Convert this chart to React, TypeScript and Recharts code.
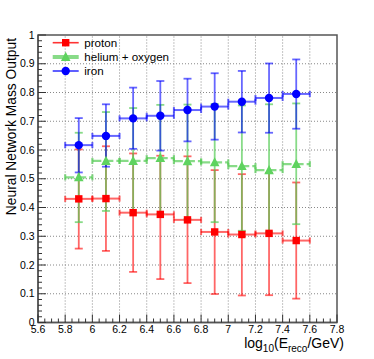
import React from 'react';
import {
  ScatterChart,
  Scatter,
  XAxis,
  YAxis,
  ErrorBar,
  ReferenceLine,
  ReferenceArea,
  Legend,
} from 'recharts';

// ---- data ----
const energyBins = [5.9, 6.1, 6.3, 6.5, 6.7, 6.9, 7.1, 7.3, 7.5];
const binHalfWidth = [0.1, 0.1, 0.1, 0.1, 0.1, 0.1, 0.1, 0.1, 0.1];

const protonMean = [0.43, 0.431, 0.382, 0.376, 0.357, 0.315, 0.306, 0.31, 0.285];
const protonLow = [0.257, 0.249, 0.176, 0.151, 0.137, 0.099, 0.094, 0.095, 0.083];
const protonHigh = [0.602, 0.613, 0.588, 0.58, 0.578, 0.53, 0.516, 0.52, 0.487];

const heliumMean = [0.505, 0.562, 0.562, 0.572, 0.561, 0.557, 0.544, 0.53, 0.551];
const heliumLow = [0.349, 0.388, 0.382, 0.377, 0.359, 0.349, 0.319, 0.314, 0.342];
const heliumHigh = [0.66, 0.732, 0.746, 0.757, 0.758, 0.76, 0.755, 0.759, 0.762];

const ironMean = [0.617, 0.649, 0.71, 0.719, 0.739, 0.751, 0.768, 0.781, 0.795];
const ironLow = [0.522, 0.542, 0.604, 0.598, 0.63, 0.636, 0.661, 0.66, 0.674];
const ironHigh = [0.711, 0.759, 0.817, 0.84, 0.848, 0.867, 0.875, 0.901, 0.915];

const seriesNames = ['proton', 'helium + oxygen', 'iron'];

const xMajorTicks = [5.6, 5.8, 6, 6.2, 6.4, 6.6, 6.8, 7, 7.2, 7.4, 7.6, 7.8];
const yMajorTicks = [0, 0.1, 0.2, 0.3, 0.4, 0.5, 0.6, 0.7, 0.8, 0.9, 1];
const xMinorPerMajor = 4;
const yMinorPerMajor = 5;

const xGrid = [5.8, 6, 6.2, 6.4, 6.6, 6.8, 7, 7.2, 7.4, 7.6];
const yGrid = [0.1, 0.2, 0.3, 0.4, 0.5, 0.6, 0.7, 0.8, 0.9];

// ---- helpers ----
const FONT = '"Liberation Sans", Arial, Helvetica, sans-serif';

function subdivide(majors: number[], n: number): number[] {
  const out: number[] = [];
  for (let i = 0; i < majors.length - 1; i++) {
    const a = majors[i];
    const b = majors[i + 1];
    for (let k = 0; k < n; k++) out.push(Math.round((a + ((b - a) * k) / n) * 1000) / 1000);
  }
  out.push(majors[majors.length - 1]);
  return out;
}

const xTicks = subdivide(xMajorTicks, xMinorPerMajor);
const yTicks = subdivide(yMajorTicks, yMinorPerMajor);

const isMajor = (v: number, majors: number[]) => majors.some((m) => Math.abs(m - v) < 1e-6);

function build(mean: number[], low: number[], high: number[]) {
  return energyBins.map((x, i) => ({
    x,
    y: mean[i],
    ex: binHalfWidth[i],
    ey: [mean[i] - low[i], high[i] - mean[i]],
  }));
}

const protonData = build(protonMean, protonLow, protonHigh);
const heliumData = build(heliumMean, heliumLow, heliumHigh);
const ironData = build(ironMean, ironLow, ironHigh);

const RED = '#ff0000';
const GREEN = '#5fd35f';
const GREEN_BAR = '#55cc55';
const BLUE = '#0000ff';

const XTick = (props: any) => {
  const { x, y, payload } = props;
  const v = payload.value;
  const major = isMajor(v, xMajorTicks);
  return (
    <g>
      <line x1={x} y1={y} x2={x} y2={y - (major ? 8 : 4)} stroke="#333" strokeWidth={1} />
      {major && (
        <text x={x} y={y + 10.3} textAnchor="middle" fontSize={10.5} fontFamily={FONT} fill="#000">
          {String(Number(v.toFixed(1)))}
        </text>
      )}
    </g>
  );
};

const YTick = (props: any) => {
  const { x, y, payload } = props;
  const v = payload.value;
  const major = isMajor(v, yMajorTicks);
  return (
    <g>
      <line x1={x} y1={y} x2={x + (major ? 8 : 4)} y2={y} stroke="#333" strokeWidth={1} />
      {major && (
        <text x={x - 3.5} y={y + 3.5} textAnchor="end" fontSize={10.5} fontFamily={FONT} fill="#000">
          {String(Number(v.toFixed(1)))}
        </text>
      )}
    </g>
  );
};

const SquareShape = (p: any) => (
  <rect x={p.cx - 3.7} y={p.cy - 3.7} width={7.4} height={7.4} fill={RED} />
);
const TriangleShape = (p: any) => (
  <polygon
    points={`${p.cx},${p.cy - 5.2} ${p.cx - 4.8},${p.cy + 4} ${p.cx + 4.8},${p.cy + 4}`}
    fill={GREEN}
  />
);
const CircleShape = (p: any) => <circle cx={p.cx} cy={p.cy} r={4.2} fill={BLUE} />;

const LegendBox = () => {
  const rows = [
    { y: 42.7, color: RED, width: 1.6, opacity: 0.8, marker: 'square' },
    { y: 57, color: GREEN_BAR, width: 4, opacity: 0.7, marker: 'triangle' },
    { y: 71, color: BLUE, width: 1.8, opacity: 0.7, marker: 'circle' },
  ];
  return (
    <svg width={200} height={90} style={{ display: 'block' }}>
      {rows.map((r, i) => {
        const cx = 65.7;
        const cy = r.y;
        return (
          <g key={i}>
            <line x1={52.7} y1={cy} x2={78.7} y2={cy} stroke={r.color} strokeWidth={r.width} strokeOpacity={r.opacity} />
            {r.marker === 'square' && <rect x={cx - 3.7} y={cy - 3.7} width={7.4} height={7.4} fill={RED} />}
            {r.marker === 'triangle' && (
              <polygon points={`${cx},${cy - 5.2} ${cx - 4.8},${cy + 4} ${cx + 4.8},${cy + 4}`} fill={GREEN} />
            )}
            {r.marker === 'circle' && <circle cx={cx} cy={cy} r={4.2} fill={BLUE} />}
            <text x={84.3} y={cy + 4} fontSize={11.6} fontFamily={FONT} fill="#000">
              {seriesNames[i]}
            </text>
          </g>
        );
      })}
    </svg>
  );
};

const YTitle = () => (
  <text
    x={15.5}
    y={38}
    transform="rotate(-90 15.5 38)"
    textAnchor="end"
    fontSize={13.8}
    fontFamily={FONT}
    fill="#000"
  >
    Neural Network Mass Output
  </text>
);

const XTitle = () => (
  <text x={344} y={347.5} textAnchor="end" fontSize={14} fontFamily={FONT} fill="#000">
    log
    <tspan fontSize={10} dy={4}>10</tspan>
    <tspan dy={-4}>(E</tspan>
    <tspan fontSize={10} dy={4}>reco</tspan>
    <tspan dy={-4}>/GeV)</tspan>
  </text>
);

export default function App() {
  return (
    <div style={{ position: 'absolute', left: 0, top: 0, width: 374, height: 359, background: '#fff' }}>
      <ScatterChart width={374} height={359} margin={{ top: 35, right: 37, bottom: 0, left: 0 }}>
        <XAxis
          type="number"
          dataKey="x"
          domain={[5.6, 7.8]}
          ticks={xTicks}
          interval={0}
          tick={<XTick />}
          tickLine={false}
          tickSize={0}
          tickMargin={0}
          axisLine={{ stroke: '#555', strokeWidth: 1.5 }}
          height={36.5}
          allowDataOverflow
          label={{ content: () => <XTitle /> }}
        />
        <YAxis
          type="number"
          dataKey="y"
          domain={[0, 1]}
          ticks={yTicks}
          interval={0}
          tick={<YTick />}
          tickLine={false}
          tickSize={0}
          tickMargin={0}
          axisLine={{ stroke: '#555', strokeWidth: 1.5 }}
          width={38}
          allowDataOverflow
          label={{ content: () => <YTitle /> }}
        />
        {xGrid.map((v) => (
          <ReferenceLine key={'gx' + v} x={v} stroke="#888" strokeWidth={1} strokeDasharray="1 2" />
        ))}
        {yGrid.map((v) => (
          <ReferenceLine key={'gy' + v} y={v} stroke="#888" strokeWidth={1} strokeDasharray="1 2" />
        ))}
        <ReferenceArea x1={5.6} x2={7.8} y1={0} y2={1} fill="none" stroke="#555" strokeWidth={1.5} />
        <Scatter data={protonData} shape={<SquareShape />} isAnimationActive={false} name={seriesNames[0]}>
          <ErrorBar dataKey="ey" direction="y" width={4} stroke={RED} strokeWidth={1.8} strokeOpacity={0.6} />
          <ErrorBar dataKey="ex" direction="x" width={3} stroke={RED} strokeWidth={2} strokeOpacity={0.6} />
        </Scatter>
        <Scatter data={heliumData} shape={<TriangleShape />} isAnimationActive={false} name={seriesNames[1]}>
          <ErrorBar dataKey="ey" direction="y" width={4} stroke={GREEN_BAR} strokeWidth={1.8} strokeOpacity={0.7} />
          <ErrorBar
            dataKey="ex"
            direction="x"
            width={3}
            stroke={GREEN_BAR}
            strokeWidth={2.2}
            strokeOpacity={0.7}
            strokeDasharray="9 3"
          />
        </Scatter>
        <Scatter data={ironData} shape={<CircleShape />} isAnimationActive={false} name={seriesNames[2]}>
          <ErrorBar dataKey="ey" direction="y" width={4} stroke={BLUE} strokeWidth={1.8} strokeOpacity={0.6} />
          <ErrorBar dataKey="ex" direction="x" width={3} stroke={BLUE} strokeWidth={2} strokeOpacity={0.6} />
        </Scatter>
        <Legend
          layout="horizontal"
          verticalAlign="middle"
          align="center"
          content={() => <LegendBox />}
          wrapperStyle={{ position: 'absolute', left: 0, top: 0, width: 200, height: 90, margin: 0 }}
        />
      </ScatterChart>
    </div>
  );
}
